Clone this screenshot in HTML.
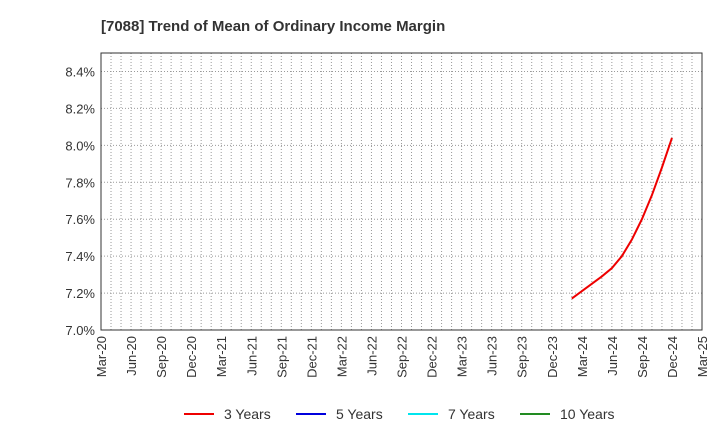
<!DOCTYPE html>
<html><head><meta charset="utf-8"><style>
body{margin:0;background:#fff;font-family:"Liberation Sans",sans-serif}
</style></head><body>
<svg id="c" width="720" height="440" xmlns="http://www.w3.org/2000/svg" style="font-family:'Liberation Sans',sans-serif">
<text x="101" y="31" font-size="15" font-weight="bold" fill="#333">[7088]  Trend of Mean of Ordinary Income Margin</text>
<g id="grid"></g><g id="axes"></g><g id="series"></g>
<g font-size="14" fill="#333">
<g><line x1="184" y1="414" x2="214" y2="414" stroke="#e00" stroke-width="2"/><text x="224" y="419">3 Years</text></g>
<g><line x1="296" y1="414" x2="326" y2="414" stroke="#0000dd" stroke-width="2"/><text x="336" y="419">5 Years</text></g>
<g><line x1="408" y1="414" x2="438" y2="414" stroke="#00e5ee" stroke-width="2"/><text x="448" y="419">7 Years</text></g>
<g><line x1="520" y1="414" x2="550" y2="414" stroke="#228b22" stroke-width="2"/><text x="560" y="419">10 Years</text></g>
</g>
</svg>
<script>
const xLabels=["Mar-20","Jun-20","Sep-20","Dec-20","Mar-21","Jun-21","Sep-21","Dec-21","Mar-22","Jun-22","Sep-22","Dec-22","Mar-23","Jun-23","Sep-23","Dec-23","Mar-24","Jun-24","Sep-24","Dec-24","Mar-25"];
const yTicks=[7.0,7.2,7.4,7.6,7.8,8.0,8.2,8.4];
const monthIdx3=[47,48,49,50,51,52,53,54,55,56,57];
const values3=[7.17,7.21,7.25,7.29,7.335,7.40,7.49,7.60,7.73,7.88,8.04];
const L=101,R=702,T=53,B=330;
const xs=m=>L+(R-L)*m/60;
const NS="http://www.w3.org/2000/svg";
function mk(p,t,a){const e=document.createElementNS(NS,t);for(const k in a)e.setAttribute(k,a[k]);p.appendChild(e);return e;}
const g=document.getElementById('grid'),ax=document.getElementById('axes'),s=document.getElementById('series');
const yv=v=>B-(v-7.0)/(8.5-7.0)*(B-T);
for(let m=1;m<60;m++){const l=mk(g,'line',{x1:xs(m),x2:xs(m),y1:T,y2:B,stroke:'#999','stroke-dasharray':'1,2','stroke-width':1});

}
yTicks.forEach(v=>{const y=yv(v);
const l=mk(g,'line',{x1:L,x2:R,y1:y,y2:y,stroke:'#999','stroke-dasharray':'1,2'});


const t=mk(ax,'text',{x:L-6,y:y+5,'text-anchor':'end','font-size':13,fill:'#333'});t.textContent=v.toFixed(1)+'%';

});
const fr=mk(ax,'rect',{x:L,y:T,width:R-L,height:B-T,fill:'none',stroke:'#333'});


xLabels.forEach((lb,i)=>{const x=xs(i*3);
const t=mk(ax,'text',{transform:`translate(${x+5},${B+6}) rotate(-90)`,'text-anchor':'end','font-size':13,fill:'#333'});t.textContent=lb;

});
const pts=monthIdx3.map((m,i)=>xs(m)+','+yv(values3[i])).join(' ');
const pl=mk(s,'polyline',{points:pts,fill:'none',stroke:'#e00','stroke-width':2});


</script>
</body></html>
